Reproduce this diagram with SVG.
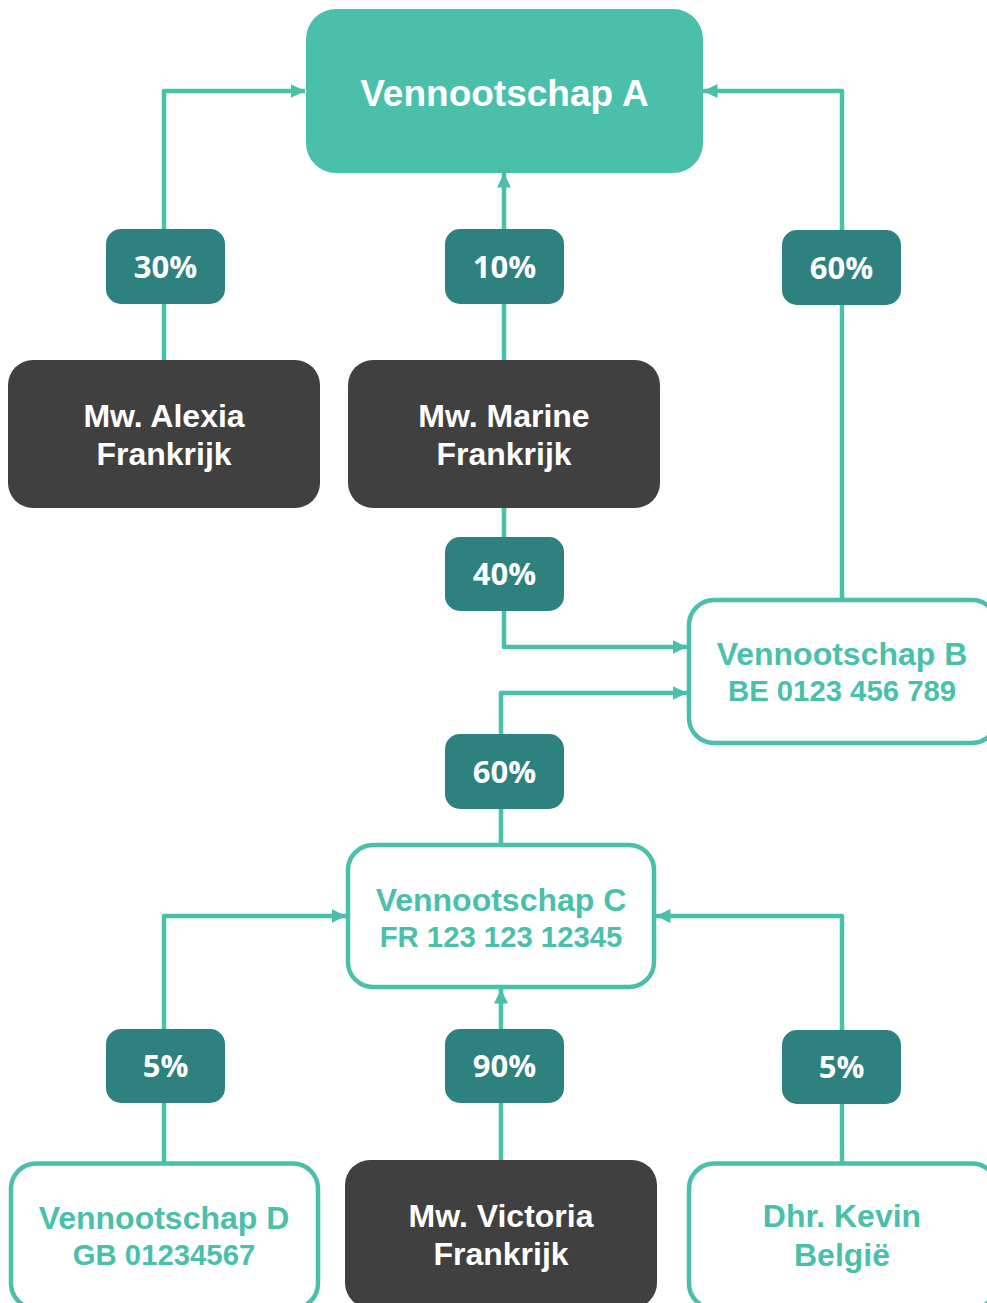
<svg xmlns="http://www.w3.org/2000/svg" width="987" height="1303" viewBox="0 0 987 1303">
<style>
.conn{fill:none;stroke:#4ABFAA;stroke-width:4.5;stroke-linejoin:round}
.lbl rect{fill:#2D817E}
.lbl text{font-family:"Open Sans","Liberation Sans",sans-serif;font-weight:700;font-size:31px;fill:#fff;text-anchor:middle}
.dark rect{fill:#404040}
.dark text{font-family:"Liberation Sans",Arial,sans-serif;font-weight:700;font-size:32px;fill:#fff;text-anchor:middle}
.out rect{fill:#fff;stroke:#4ABFAA;stroke-width:4.5}
.out text{font-family:"Liberation Sans",Arial,sans-serif;font-weight:700;fill:#4ABFAA;text-anchor:middle}
.nm{font-size:32px}
.id{font-size:29.3px}
</style>
<defs>
<marker id="ah" markerUnits="userSpaceOnUse" markerWidth="16" markerHeight="16" refX="14.5" refY="7.5" orient="auto">
<path d="M0,0.5 L14.5,7.5 L0,14.5 z" fill="#4ABFAA"/>
</marker>
</defs>
<g id="connectors">
<path class="conn" d="M164,360 V91 H305" marker-end="url(#ah)"/>
<path class="conn" d="M504,360 V173" marker-end="url(#ah)"/>
<path class="conn" d="M842,598 V91 H703" marker-end="url(#ah)"/>
<path class="conn" d="M504,508 V647 H687" marker-end="url(#ah)"/>
<path class="conn" d="M501,843 V693 H687" marker-end="url(#ah)"/>
<path class="conn" d="M164,1162 V916 H346" marker-end="url(#ah)"/>
<path class="conn" d="M501,1160 V989" marker-end="url(#ah)"/>
<path class="conn" d="M842,1162 V916 H656" marker-end="url(#ah)"/>
</g>
<g id="nodeA">
<rect x="306" y="9" width="397" height="164" rx="30" fill="#4ABFAA"/>
<text x="504.5" y="106" font-family="'Liberation Sans',Arial,sans-serif" font-weight="700" font-size="37" fill="#fff" text-anchor="middle">Vennootschap A</text>
</g>
<g id="nodeAlexia" class="dark">
<rect x="8" y="360" width="312" height="148" rx="25"/>
<text x="164" y="427">Mw. Alexia</text>
<text x="164" y="465">Frankrijk</text>
</g>
<g id="nodeMarine" class="dark">
<rect x="348" y="360" width="312" height="148" rx="25"/>
<text x="504" y="427">Mw. Marine</text>
<text x="504" y="465">Frankrijk</text>
</g>
<g id="nodeB" class="out">
<rect x="689" y="600" width="308" height="143" rx="25"/>
<text class="nm" x="842" y="665">Vennootschap B</text>
<text class="id" x="842" y="701">BE 0123 456 789</text>
</g>
<g id="nodeC" class="out">
<rect x="348" y="845" width="306" height="142" rx="25"/>
<text class="nm" x="501" y="911">Vennootschap C</text>
<text class="id" x="501" y="947">FR 123 123 12345</text>
</g>
<g id="nodeD" class="out">
<rect x="11" y="1163.5" width="307" height="145" rx="25"/>
<text class="nm" x="164" y="1229">Vennootschap D</text>
<text class="id" x="164" y="1265">GB 01234567</text>
</g>
<g id="nodeVictoria" class="dark">
<rect x="345" y="1160" width="312" height="148" rx="25"/>
<text x="501" y="1227">Mw. Victoria</text>
<text x="501" y="1265">Frankrijk</text>
</g>
<g id="nodeKevin" class="out">
<rect x="689" y="1163.5" width="308" height="145" rx="25"/>
<text class="nm" x="842" y="1227">Dhr. Kevin</text>
<text class="nm" x="842" y="1266">België</text>
</g>
<g id="lbl30" class="lbl"><rect x="106" y="229" width="119" height="75" rx="15"/><text x="165.5" y="278">30%</text></g>
<g id="lbl10" class="lbl"><rect x="445" y="229" width="119" height="75" rx="15"/><text x="504.5" y="278">10%</text></g>
<g id="lbl60a" class="lbl"><rect x="782" y="230" width="119" height="75" rx="15"/><text x="841.5" y="279">60%</text></g>
<g id="lbl40" class="lbl"><rect x="445" y="537" width="119" height="74" rx="15"/><text x="504.5" y="585">40%</text></g>
<g id="lbl60b" class="lbl"><rect x="445" y="734" width="119" height="75" rx="15"/><text x="504.5" y="783">60%</text></g>
<g id="lbl5a" class="lbl"><rect x="106" y="1029" width="119" height="74" rx="15"/><text x="165.5" y="1077">5%</text></g>
<g id="lbl90" class="lbl"><rect x="445" y="1029" width="119" height="74" rx="15"/><text x="504.5" y="1077">90%</text></g>
<g id="lbl5b" class="lbl"><rect x="782" y="1030" width="119" height="74" rx="15"/><text x="841.5" y="1078">5%</text></g>
</svg>
